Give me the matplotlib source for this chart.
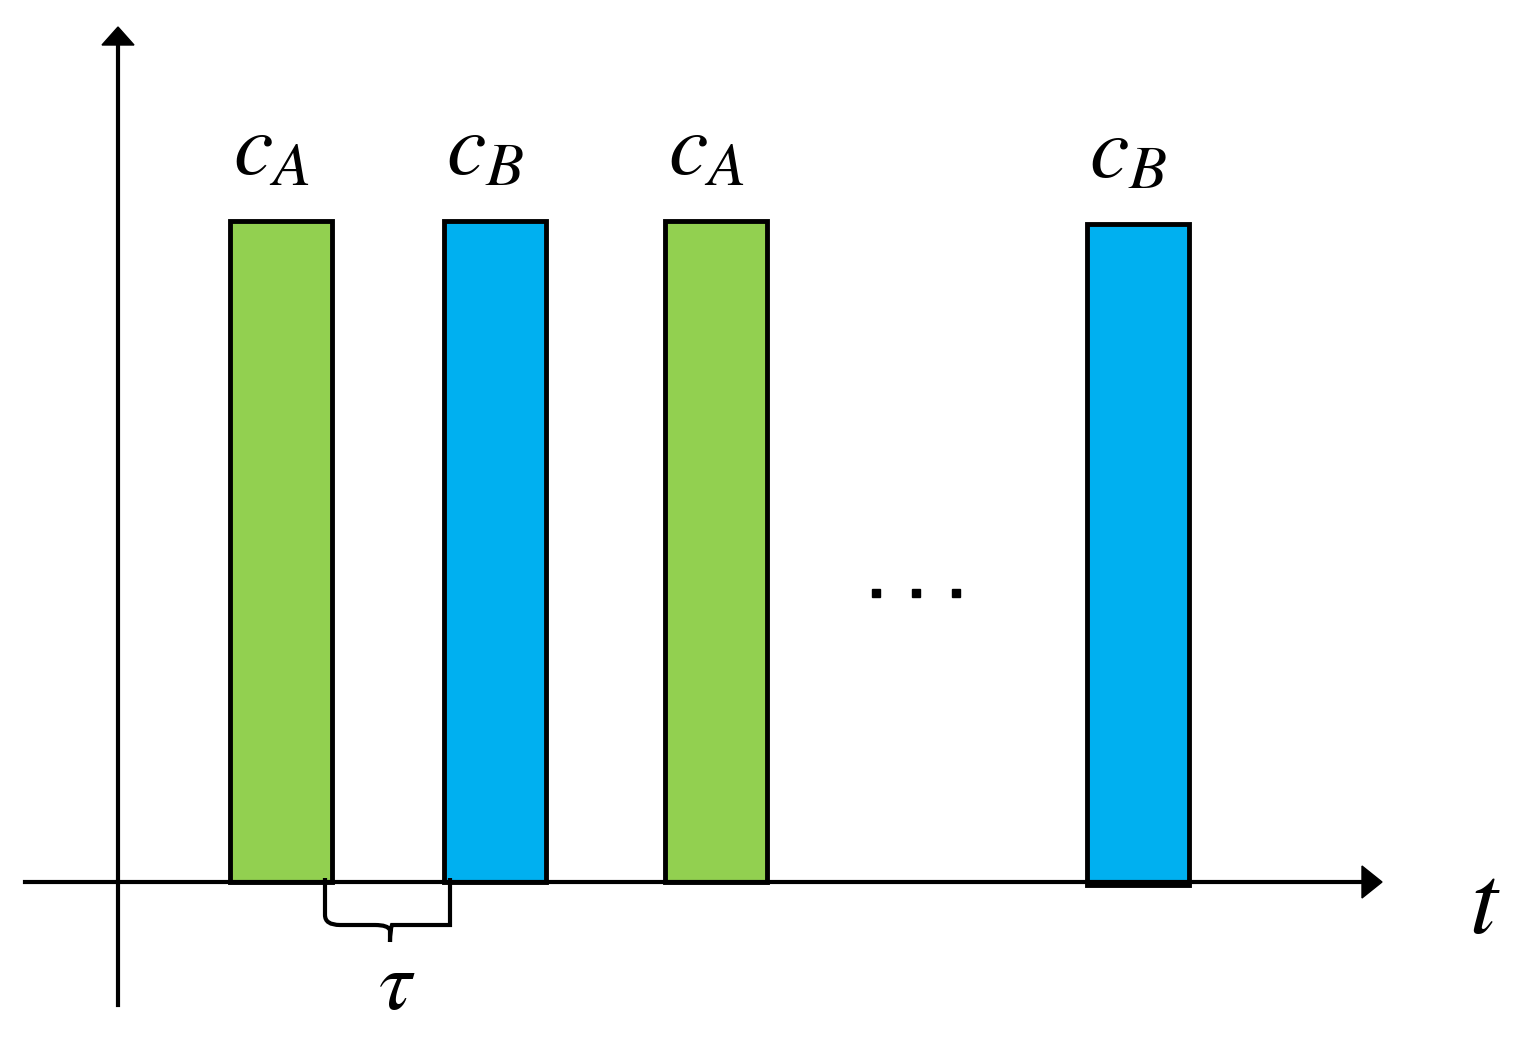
import matplotlib
matplotlib.use("Agg")
import matplotlib.pyplot as plt
from matplotlib.patches import Rectangle, FancyArrow
from matplotlib.path import Path
from matplotlib.patches import PathPatch

plt.rcParams['mathtext.fontset'] = 'stix'

labels = [r'$c_A$', r'$c_B$', r'$c_A$', r'$c_B$']
colors = ['#92d050', '#00b0f0', '#92d050', '#00b0f0']
bar_left = [230, 444, 665, 1087]
bar_width = [102, 102, 102, 102]
bar_top = [221, 221, 221, 224]
bar_bottom = [882, 882, 882, 885]

fig = plt.figure(figsize=(15.25, 10.48), dpi=100)
ax = fig.add_axes([0, 0, 1, 1])
ax.set_xlim(0, 1525)
ax.set_ylim(1048, 0)
ax.axis('off')

# axes lines with arrows
ax.plot([25, 1365], [882, 882], color='black', lw=3, zorder=3)
ax.plot([118, 118], [1005, 45], color='black', lw=3, zorder=3)
ax.fill([1362, 1382, 1362], [866, 882, 898], color='black', zorder=3)
ax.fill([102, 118, 134], [45, 27, 45], color='black', zorder=3)

for l, w, t, b, c, lab in zip(bar_left, bar_width, bar_top, bar_bottom, colors, labels):
    ax.add_patch(Rectangle((l, t), w, b - t, facecolor=c, edgecolor='black', lw=3.5, zorder=2))
    ax.text(l + w / 2 - 10, t - 28, lab, fontsize=64, ha='center', va='bottom', zorder=4)

# brace
verts = [(325, 878), (325, 915), (325, 925), (340, 925), (375, 925),
         (388, 925), (390, 930), (390, 942), (390, 930), (392, 925), (405, 925),
         (438, 925), (450, 925), (450, 915), (450, 878)]
codes = [Path.MOVETO, Path.LINETO, Path.CURVE3, Path.CURVE3, Path.LINETO,
         Path.CURVE3, Path.CURVE3, Path.LINETO, Path.CURVE3, Path.CURVE3, Path.LINETO,
         Path.CURVE3, Path.CURVE3, Path.LINETO, Path.LINETO]
ax.add_patch(PathPatch(Path(verts, codes), facecolor='none', edgecolor='black', lw=3, zorder=3))

ax.text(397, 985, r'$\tau$', fontsize=60, ha='center', va='center')
ax.text(1485, 905, r'$t$', fontsize=72, ha='center', va='center')

ax.plot([876, 916, 956], [593, 593, 593], 's', color='black', ms=6)

fig.savefig('out.png', dpi=100)
